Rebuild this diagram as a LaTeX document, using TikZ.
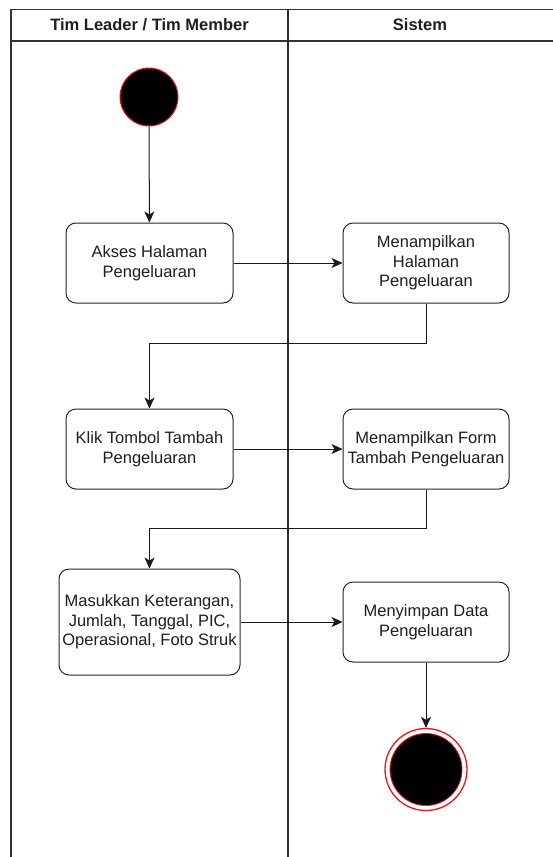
\documentclass[tikz,border=0pt]{standalone}
\usepackage{fontspec}
\setmainfont{Liberation Sans}
\usetikzlibrary{arrows.meta}
\definecolor{txt}{RGB}{30,30,30}
\definecolor{ringred}{RGB}{240,20,20}
\begin{document}
\begin{tikzpicture}[x=1pt,y=-1pt,
  act/.style={draw=black!85,line width=1pt,rounded corners=10pt,fill=white,
    minimum width=167pt,minimum height=80pt,align=center,inner sep=1pt,
    font=\fontsize{16.5pt}{19.5pt}\selectfont,text=txt},
  flow/.style={draw=black!90,line width=1pt,-{Stealth[length=11pt,width=10pt,inset=3pt]}},
  lane/.style={draw=black!80,line width=1.6pt},
  hdr/.style={font=\fontsize{16.5pt}{19.5pt}\selectfont\bfseries,text=txt}
]
\useasboundingbox (0,0) rectangle (552,857);
% swimlane frame
\draw[lane] (11,857) -- (11,9.5) -- (553,9.5);
\draw[lane] (11,41) -- (553,41);
\draw[lane] (288,9.5) -- (288,857);
\node[hdr] (h1) at (149.5,25) {Tim Leader / Tim Member};
\node[hdr] (h2) at (420,25) {Sistem};
% start
\node[circle,fill=black,draw=ringred,line width=1pt,minimum size=58pt,inner sep=0pt] (start) at (149,97) {};
% activities
\node[act] (a1) at (149.5,263) {Akses Halaman\\Pengeluaran};
\node[act,minimum width=166pt] (s1) at (426,263) {Menampilkan\\Halaman\\Pengeluaran};
\node[act] (a2) at (149.5,449) {Klik Tombol Tambah\\Pengeluaran};
\node[act,minimum width=166pt] (s2) at (426,449) {Menampilkan Form\\Tambah Pengeluaran};
\node[act,minimum width=181pt,minimum height=106pt] (a3) at (149.5,622) {Masukkan Keterangan,\\Jumlah, Tanggal, PIC,\\Operasional, Foto Struk};
\node[act,minimum width=166pt] (s3) at (426,622) {Menyimpan Data\\Pengeluaran};
% end
\node[circle,draw=ringred,line width=1.3pt,minimum size=82pt,inner sep=0pt] (endo) at (426,769.5) {};
\node[circle,fill=black,draw=ringred,line width=0.8pt,minimum size=72pt,inner sep=0pt] (endi) at (426,769.5) {};
% connectors
\draw[flow] (start) -- (a1);
\draw[flow] (a1) -- (s1);
\coordinate (b1r) at (426,343);
\coordinate (b1l) at (149.5,343);
\draw[flow] (s1.south) -- (b1r) -- (b1l) -- (a2.north);
\draw[flow] (a2) -- (s2);
\coordinate (b2r) at (426,528);
\coordinate (b2l) at (149.5,528);
\draw[flow] (s2.south) -- (b2r) -- (b2l) -- (a3.north);
\draw[flow] (a3) -- (s3);
\draw[flow] (s3) -- (endo);
\end{tikzpicture}
\end{document}
